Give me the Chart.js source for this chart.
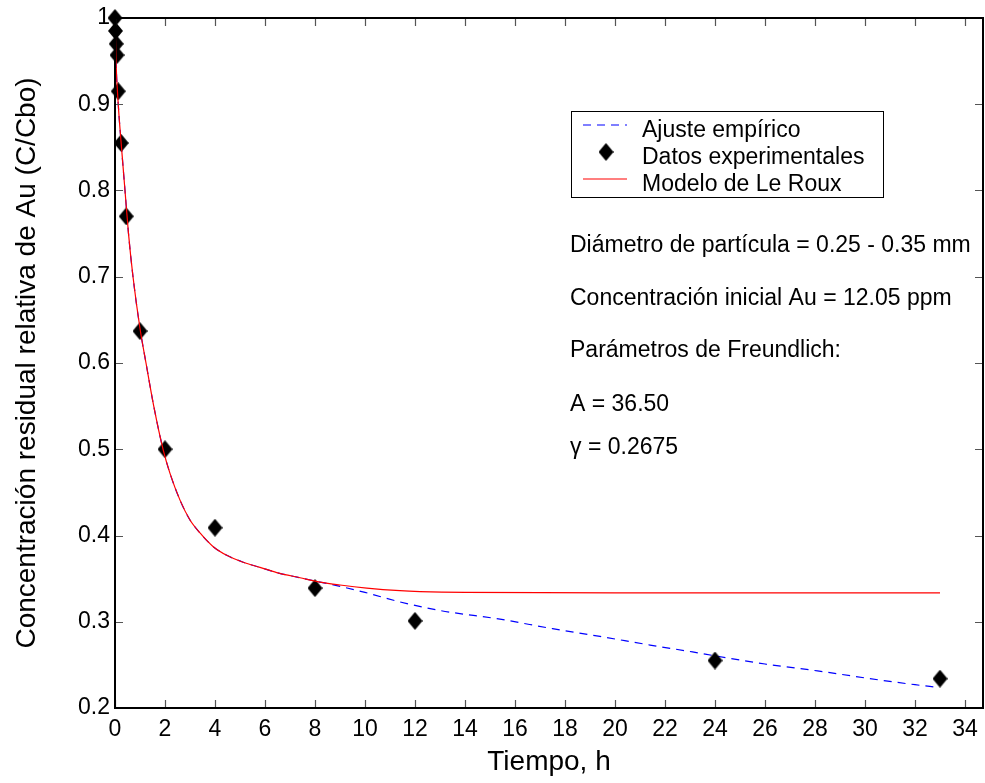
<!DOCTYPE html>
<html>
<head>
<meta charset="utf-8">
<script src="https://cdn.jsdelivr.net/npm/chart.js@4.4.1/dist/chart.umd.min.js"></script>
<style>html,body{margin:0;padding:0;background:#fff;}canvas{display:block;}</style>
</head>
<body>
<canvas id="c" width="985" height="783"></canvas>
<script>
// ---- data ----
const expTime = [0, 0.02, 0.05, 0.08, 0.13, 0.25, 0.45, 1, 2, 4, 8, 12, 24, 33];
const expConc = [1.0, 0.985, 0.970, 0.957, 0.915, 0.855, 0.770, 0.637, 0.500, 0.409, 0.339, 0.301, 0.255, 0.234];

const empTime = [0, 0.04, 0.13, 0.26, 0.4, 0.54, 0.72, 1.0, 1.24, 1.55, 1.93, 2.2, 2.6, 3.0, 3.4, 3.93, 4.47, 5.13, 5.8, 6.47, 7.4, 8.2, 9.0, 10.0, 11.4, 13, 15.4, 17.5, 19.4, 21.4, 23.1, 24.1, 26, 28.1, 30.7, 32, 32.9];
const empConc = [1.0, 0.95, 0.9, 0.85, 0.8, 0.75, 0.7, 0.64, 0.6, 0.55, 0.499, 0.472, 0.441, 0.418, 0.403, 0.387, 0.377, 0.369, 0.363, 0.357, 0.351, 0.346, 0.341, 0.334, 0.323, 0.313, 0.303, 0.292, 0.283, 0.273, 0.265, 0.26, 0.251, 0.243, 0.232, 0.227, 0.224];

const modelTime = [0, 0.04, 0.13, 0.26, 0.4, 0.54, 0.72, 1.0, 1.24, 1.55, 1.93, 2.2, 2.6, 3.0, 3.4, 3.93, 4.47, 5.13, 5.8, 6.47, 7.4, 8.2, 9.0, 10.07, 11.4, 12.2, 14, 20, 33];
const modelConc = [1.0, 0.95, 0.9, 0.85, 0.8, 0.75, 0.7, 0.64, 0.6, 0.55, 0.499, 0.472, 0.441, 0.418, 0.403, 0.387, 0.377, 0.369, 0.363, 0.357, 0.351, 0.346, 0.3426, 0.339, 0.336, 0.335, 0.334, 0.3335, 0.3335];

const xTicks = [0, 2, 4, 6, 8, 10, 12, 14, 16, 18, 20, 22, 24, 26, 28, 30, 32, 34];
const xTickLabels = ['0','2','4','6','8','10','12','14','16','18','20','22','24','26','28','30','32','34'];
const yTicks = [0.2, 0.3, 0.4, 0.5, 0.6, 0.7, 0.8, 0.9, 1.0];
const yTickLabels = ['0.2','0.3','0.4','0.5','0.6','0.7','0.8','0.9','1'];

const seriesLabels = ['Ajuste empírico', 'Datos experimentales', 'Modelo de Le Roux'];
const xTitle = 'Tiempo, h';
const yTitle = 'Concentración residual relativa de Au (C/Cbo)';
const notes = ['Diámetro de partícula = 0.25 - 0.35 mm', 'Concentración inicial Au = 12.05 ppm', 'Parámetros de Freundlich:', 'A = 36.50', 'γ = 0.2675'];

// ---- rendering ----
const FONT = "'Liberation Sans', Arial, Helvetica, sans-serif";
Chart.defaults.font.family = FONT;
Chart.defaults.color = '#000';

function diamondCanvas(w, h) {
  const c = document.createElement('canvas');
  c.width = w; c.height = h;
  const g = c.getContext('2d');
  g.fillStyle = '#000';
  g.beginPath();
  g.moveTo(w / 2, 0); g.lineTo(w, h / 2); g.lineTo(w / 2, h); g.lineTo(0, h / 2);
  g.closePath(); g.fill();
  return c;
}
const diamond = diamondCanvas(15, 18);
const toXY = (xs, ys) => xs.map((x, i) => ({ x: x, y: ys[i] }));

const framePlugin = {
  id: 'frame',
  afterDatasetsDraw(chart) {
    const ctx = chart.ctx;
    const a = chart.chartArea;
    const xs = chart.scales.x, ys = chart.scales.y;
    ctx.save();
    // inner ticks
    ctx.strokeStyle = '#555';
    ctx.lineWidth = 1.2;
    ctx.beginPath();
    xTicks.forEach(v => {
      const px = Math.round(xs.getPixelForValue(v)) + 0.5;
      ctx.moveTo(px, a.bottom); ctx.lineTo(px, a.bottom - 8);
      ctx.moveTo(px, a.top); ctx.lineTo(px, a.top + 8);
    });
    yTicks.forEach(v => {
      const py = Math.round(ys.getPixelForValue(v)) + 0.5;
      ctx.moveTo(a.left, py); ctx.lineTo(a.left + 8, py);
      ctx.moveTo(a.right, py); ctx.lineTo(a.right - 8, py);
    });
    ctx.stroke();
    // box
    ctx.strokeStyle = '#000';
    ctx.lineWidth = 2;
    ctx.strokeRect(a.left, a.top, a.right - a.left, a.bottom - a.top);

    // legend
    const lx = 571, ly = 111, lw = 312, lh = 86;
    ctx.fillStyle = '#fff';
    ctx.fillRect(lx, ly, lw, lh);
    ctx.strokeStyle = '#000';
    ctx.lineWidth = 1;
    ctx.strokeRect(lx + 0.5, ly + 0.5, lw, lh);
    const baselines = [137, 164, 191];
    const ds = chart.data.datasets;
    ctx.strokeStyle = ds[0].borderColor; ctx.lineWidth = 1.2;
    ctx.setLineDash([8, 6]);
    ctx.beginPath(); ctx.moveTo(583, baselines[0] - 12); ctx.lineTo(627, baselines[0] - 12); ctx.stroke();
    ctx.setLineDash([]);
    ctx.drawImage(diamond, 606 - 7.5, baselines[1] - 12 - 9);
    ctx.strokeStyle = ds[2].borderColor; ctx.lineWidth = 1.2;
    ctx.beginPath(); ctx.moveTo(583, baselines[2] - 12); ctx.lineTo(627, baselines[2] - 12); ctx.stroke();
    ctx.fillStyle = '#000';
    ctx.font = '23px ' + FONT;
    ctx.textAlign = 'left';
    ctx.textBaseline = 'alphabetic';
    ds.forEach((d, i) => ctx.fillText(d.label, 642, baselines[i]));

    // annotations
    ctx.font = '23px ' + FONT;
    ctx.textBaseline = 'middle';
    const noteY = [246, 299, 351, 405, 448];
    notes.forEach((t, i) => ctx.fillText(t, 570, noteY[i]));
    ctx.restore();
  }
};

new Chart(document.getElementById('c').getContext('2d'), {
  type: 'scatter',
  data: {
    datasets: [
      { label: seriesLabels[0], data: toXY(empTime, empConc), showLine: true, borderColor: '#0000ff',
        borderWidth: 1.2, borderDash: [8, 6], pointRadius: 0, pointHoverRadius: 0, fill: false,
        cubicInterpolationMode: 'monotone', order: 2, clip: false },
      { label: seriesLabels[1], data: toXY(expTime, expConc), showLine: false, pointStyle: diamond,
        pointRadius: 1, pointHoverRadius: 1, pointBorderWidth: 0, order: 1, clip: false },
      { label: seriesLabels[2], data: toXY(modelTime, modelConc), showLine: true, borderColor: '#ff0000',
        borderWidth: 1.2, pointRadius: 0, pointHoverRadius: 0, fill: false,
        cubicInterpolationMode: 'monotone', order: 0, clip: false }
    ]
  },
  options: {
    responsive: false,
    animation: false,
    devicePixelRatio: 1,
    layout: { padding: { top: 18, right: 2, left: 0, bottom: 0 } },
    plugins: { legend: { display: false }, tooltip: { enabled: false } },
    scales: {
      x: {
        type: 'linear', min: 0, max: 34.72,
        grid: { display: false, drawTicks: false }, border: { display: false },
        afterBuildTicks: s => { s.ticks = xTicks.map(v => ({ value: v })); },
        afterFit: s => { s.height = 75; s.paddingLeft = 0; s.paddingRight = 0; },
        ticks: { padding: 8, font: { size: 23 }, color: '#000', maxRotation: 0, minRotation: 0, autoSkip: false,
                 callback: (v, i) => xTickLabels[i] },
        title: { display: true, text: xTitle, font: { size: 28 }, color: '#000', padding: { top: 0, bottom: 4 } }
      },
      y: {
        type: 'linear', min: 0.2, max: 1.0,
        grid: { display: false, drawTicks: false }, border: { display: false },
        afterBuildTicks: s => { s.ticks = yTicks.map(v => ({ value: v })); },
        afterFit: s => { s.width = 115; s.paddingTop = 0; s.paddingBottom = 0; },
        ticks: { padding: 5, font: { size: 23 }, color: '#000', autoSkip: false,
                 callback: (v, i) => yTickLabels[i] },
        title: { display: true, text: yTitle, font: { size: 28 }, color: '#000', padding: { top: 10, bottom: 0 } }
      }
    }
  },
  plugins: [framePlugin]
});
</script>
</body>
</html>
